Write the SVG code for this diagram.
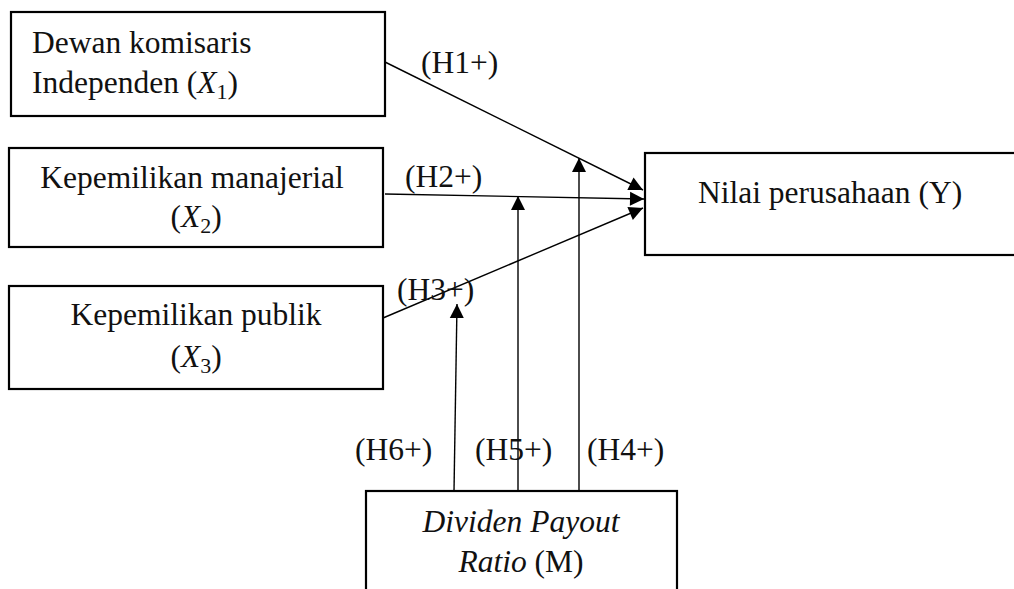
<svg xmlns="http://www.w3.org/2000/svg" width="1014" height="589" viewBox="0 0 1014 589">
<style>
.box{fill:#fff;stroke:#000;stroke-width:2.2}
.t{font-family:"Liberation Serif","Times New Roman",serif;font-size:31.5px;fill:#111}
.c{text-anchor:middle}
.lbl{font-family:"Liberation Serif","Times New Roman",serif;font-size:31.5px;fill:#111}
.ln{stroke:#000;stroke-width:1.4;fill:none}
</style>
<defs>
<marker id="ah" markerUnits="userSpaceOnUse" markerWidth="16" markerHeight="16" refX="14" refY="7" orient="auto" overflow="visible">
<path d="M0,0 L14,7 L0,14 z" fill="#000"/>
</marker>
</defs>
<rect width="1014" height="589" fill="#fff"/>
<g id="node-x1">
<rect class="box" x="11" y="12" width="374" height="104"/>
<text class="t" x="32" y="53">Dewan komisaris</text>
<text class="t" x="32" y="93">Independen (<tspan font-style="italic">X</tspan><tspan font-size="22" dy="6">1</tspan><tspan dy="-6">)</tspan></text>
</g>
<g id="node-x2">
<rect class="box" x="9" y="148" width="374" height="99"/>
<text class="t c" x="192" y="188">Kepemilikan manajerial</text>
<text class="t c" x="196" y="227">(<tspan font-style="italic">X</tspan><tspan font-size="22" dy="6">2</tspan><tspan dy="-6">)</tspan></text>
</g>
<g id="node-x3">
<rect class="box" x="9" y="286" width="374" height="103"/>
<text class="t c" x="196" y="325">Kepemilikan publik</text>
<text class="t c" x="196" y="367">(<tspan font-style="italic">X</tspan><tspan font-size="22" dy="6">3</tspan><tspan dy="-6">)</tspan></text>
</g>
<g id="node-y">
<rect class="box" x="645" y="153" width="380" height="102"/>
<text class="t" x="698" y="203">Nilai perusahaan (Y)</text>
</g>
<g id="node-m">
<rect class="box" x="366" y="491" width="311" height="110"/>
<text class="t c" x="521" y="532" font-style="italic">Dividen Payout</text>
<text class="t c" x="521" y="572"><tspan font-style="italic">Ratio</tspan> (M)</text>
</g>
<g id="connectors">
<line class="ln" x1="385" y1="62" x2="643" y2="190" marker-end="url(#ah)"/>
<line class="ln" x1="385" y1="194" x2="644" y2="199" marker-end="url(#ah)"/>
<line class="ln" x1="383" y1="318" x2="643" y2="208" marker-end="url(#ah)"/>
<line class="ln" x1="579" y1="491" x2="579" y2="158" marker-end="url(#ah)"/>
<line class="ln" x1="518" y1="491" x2="518" y2="196" marker-end="url(#ah)"/>
<line class="ln" x1="454" y1="491" x2="457" y2="304" marker-end="url(#ah)"/>
<text class="lbl" x="421" y="73">(H1+)</text>
<text class="lbl" x="405" y="187">(H2+)</text>
<text class="lbl" x="397" y="300">(H3+)</text>
<text class="lbl" x="587" y="460">(H4+)</text>
<text class="lbl" x="475" y="460">(H5+)</text>
<text class="lbl" x="355" y="460">(H6+)</text>
</g>
</svg>
